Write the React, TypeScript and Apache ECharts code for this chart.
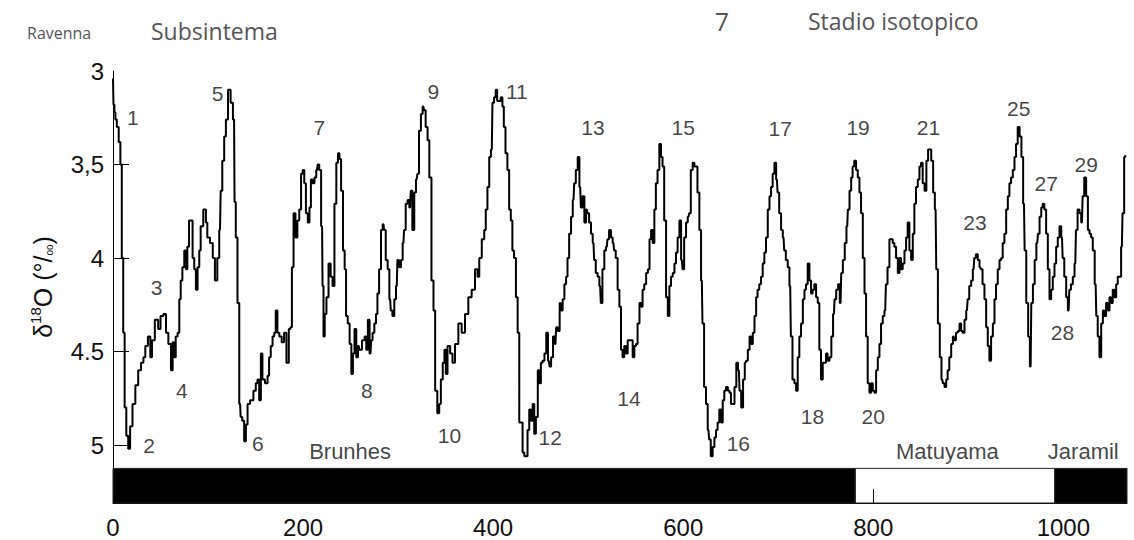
import React, { useEffect, useRef } from 'react';
import * as echarts from 'echarts';

// δ18O record, [age ka, δ18O ‰]
const record0to175: [number, number][] = [[0,3.04],[1,3.18],[2,3.22],[3,3.26],[5,3.3],[7,3.38],[8.5,3.5],[10,4.0],[11.5,4.4],[13,4.8],[15,4.95],[17,5.02],[19,4.9],[22,4.78],[25,4.68],[28,4.6],[31,4.56],[33,4.53],[35,4.47],[38.5,4.42],[40,4.53],[42,4.44],[46,4.33],[49,4.38],[51,4.31],[55,4.3],[56.5,4.4],[60,4.46],[62,4.6],[63.5,4.45],[65,4.53],[67,4.42],[69,4.4],[70.5,4.22],[72,4.12],[74,4.05],[76,3.96],[77.5,4.06],[79,3.94],[81,3.8],[83,3.8],[84.5,4.0],[86.5,4.06],[88,4.17],[90,4.05],[91.5,3.96],[93,3.83],[97,3.74],[98.5,3.81],[100,3.89],[104,3.92],[106,4.0],[108.5,4.12],[111,4.0],[112.6,3.85],[114,3.64],[116,3.48],[118,3.35],[119.6,3.26],[122.5,3.1],[125,3.17],[127.4,3.26],[128.4,3.7],[130,3.89],[132,4.24],[133.7,4.78],[135,4.85],[137,4.87],[139,4.98],[140.7,4.89],[142.5,4.78],[146,4.76],[149.5,4.71],[151,4.67],[153,4.65],[154.7,4.76],[156.5,4.51],[158,4.65],[161.8,4.67],[163.5,4.63],[165,4.53],[167,4.47],[168.8,4.42],[170.5,4.4],[172,4.28],[174,4.4]];
const record175to355: [number, number][] = [[176,4.42],[179,4.45],[181,4.4],[184,4.56],[186,4.38],[187.5,4.37],[189,4.05],[191,3.76],[193,3.89],[195,3.8],[197,3.74],[198.8,3.55],[200.5,3.53],[202,3.6],[204,3.76],[206,3.81],[207.5,3.73],[209,3.58],[211,3.6],[213,3.57],[214.7,3.53],[216,3.5],[218,3.53],[220,3.83],[221,4.15],[222,4.42],[223.6,4.3],[225.6,4.21],[228,4.03],[230,4.1],[232,4.15],[234,3.71],[236,3.49],[237.5,3.44],[239,3.47],[241,3.64],[243,3.96],[244.5,4.06],[246,4.31],[248,4.35],[250,4.46],[251.6,4.62],[253.3,4.51],[255,4.38],[257,4.53],[258.6,4.47],[260,4.49],[264,4.44],[265.6,4.42],[267.4,4.49],[269,4.33],[271,4.51],[272.3,4.44],[274,4.4],[276,4.35],[277.5,4.3],[279,4.19],[281,4.06],[283,3.85],[284.6,3.82],[286,3.85],[288,4.01],[290,4.06],[291.6,4.22],[293,4.28],[295,4.31],[297,4.22],[298.6,4.15],[300,4.01],[302,4.05],[304,4.01],[305.6,3.92],[307,3.85],[309,3.71],[311,3.69],[312.6,3.73],[314,3.64],[316,3.85],[318,3.65],[319.6,3.58],[321,3.55],[323,3.32],[325,3.23],[326.6,3.19],[328,3.21],[330,3.3],[332,3.37],[333.7,3.57],[336.5,4.12],[338,4.28],[340,4.71],[342.5,4.83],[344,4.78],[346,4.65],[348,4.56],[349.5,4.49],[351,4.62],[353,4.47]];
const record355to533: [number, number][] = [[356.5,4.51],[358,4.56],[361.8,4.46],[365,4.35],[368.8,4.4],[372,4.3],[375.8,4.21],[379,4.17],[382.8,4.06],[384.5,4.1],[386.3,4.0],[389.8,3.9],[391.5,3.85],[393,3.74],[395,3.62],[396.8,3.46],[398.6,3.42],[400,3.17],[402,3.14],[403.5,3.1],[405,3.16],[407,3.16],[409,3.14],[410.5,3.19],[412,3.3],[414,3.44],[416,3.53],[417.7,3.74],[419.5,3.8],[421,3.96],[423,4.0],[425,4.21],[426.6,4.4],[428.4,4.88],[430,4.88],[432,5.04],[433.7,5.06],[435.4,5.06],[437,4.92],[439,4.81],[440.7,4.87],[442.5,4.78],[444,4.94],[446,4.85],[448,4.6],[449.5,4.67],[451,4.56],[453,4.55],[455,4.51],[456.8,4.4],[458.6,4.55],[460,4.58],[462,4.53],[464,4.42],[465.6,4.46],[467,4.37],[469,4.39],[471,4.24],[472.3,4.28],[474,4.22],[476,4.14],[477.5,4.1],[479,4.0],[481,3.87],[483,3.78],[484.6,3.69],[486,3.6],[488,3.53],[490,3.46],[491.6,3.62],[493,3.73],[495,3.67],[497,3.81],[498.6,3.74],[500,3.76],[502,3.81],[504,3.87],[505.6,3.92],[507,4.01],[509,4.08],[511,4.1],[512.6,4.15],[514,4.24],[516,4.06],[518,3.96],[519.6,3.94],[521,3.9],[523,3.85],[525,3.89],[526.6,3.92],[528,3.96],[530,4.0],[532,4.17]];
const record533to715: [number, number][] = [[533.7,4.26],[535.4,4.49],[537,4.53],[539,4.47],[540.7,4.51],[542.5,4.44],[546,4.44],[547.7,4.53],[549.5,4.47],[551,4.46],[553,4.35],[555,4.24],[556.5,4.26],[558,4.17],[560,4.14],[562,4.08],[563.7,4.06],[565.4,3.9],[567,3.85],[568.8,3.92],[570.5,3.74],[572,3.6],[574,3.53],[575.8,3.39],[577.5,3.46],[579,3.51],[581,3.8],[583,4.21],[584.6,4.31],[586.3,4.15],[588,4.1],[590,4.08],[591.6,4.03],[593.3,3.97],[595,3.89],[597,3.8],[598.6,4.01],[600,4.06],[602,3.89],[604,3.81],[605.6,3.78],[607,3.76],[609,3.53],[611,3.49],[612.6,3.51],[614,3.51],[616,3.65],[618,3.85],[619.6,4.12],[621,4.35],[623,4.69],[625,4.78],[626.6,4.92],[628,4.97],[630,5.06],[632,5.01],[633.7,4.96],[635.4,4.92],[637,4.88],[639,4.81],[640.7,4.88],[642.5,4.76],[644,4.71],[646,4.69],[648,4.71],[649.5,4.72],[651,4.78],[653,4.78],[655,4.69],[656.8,4.56],[658.6,4.6],[660,4.71],[662,4.8],[664,4.65],[665.6,4.56],[667,4.55],[669,4.49],[670.7,4.42],[672.5,4.46],[674,4.4],[676,4.31],[677.5,4.21],[679,4.17],[681,4.14],[682.8,4.1],[684.5,4.03],[686.3,3.97],[688,3.89],[690,3.74],[691.6,3.67],[693.3,3.62],[695,3.55],[697,3.49],[698.6,3.58],[700,3.65],[702,3.76],[704,3.85],[705.6,3.89],[707,3.96],[709,4.01],[711,4.05],[712.6,4.15],[714,4.42]];
const record715to891: [number, number][] = [[716,4.65],[718,4.67],[719.6,4.71],[721.4,4.53],[723,4.42],[725,4.35],[726.8,4.22],[728.4,4.17],[730,4.14],[732,4.03],[733.7,4.12],[735.4,4.19],[737,4.17],[739,4.14],[740.7,4.21],[742.5,4.24],[744,4.49],[746,4.65],[747.7,4.56],[749.5,4.56],[751,4.51],[753,4.55],[755,4.53],[756.8,4.42],[758.6,4.3],[760,4.22],[762,4.17],[764,4.14],[765.6,4.24],[767,4.08],[769,4.01],[771,3.92],[772.6,3.83],[774,3.74],[776,3.64],[777.5,3.57],[779,3.51],[781,3.48],[782.8,3.53],[784.6,3.57],[786.3,3.65],[788,3.76],[790,4.0],[791.6,4.19],[793.3,4.42],[795,4.67],[797,4.72],[798.6,4.67],[800.4,4.71],[802,4.72],[804,4.6],[805.6,4.53],[807.4,4.46],[809,4.35],[811,4.31],[812.6,4.28],[814,4.14],[816,4.05],[818,3.9],[819.6,3.9],[821.4,3.92],[823,3.94],[825,4.0],[826.7,4.08],[828.4,4.0],[830,4.06],[832,4.03],[833.7,3.96],[835.4,3.89],[837,3.81],[839,3.96],[840.7,4.01],[842.5,3.87],[844,3.71],[846,3.62],[847.7,3.58],[849.5,3.51],[851,3.49],[853,3.6],[855,3.64],[856.8,3.48],[858.6,3.42],[860,3.42],[862,3.48],[864,3.65],[865.6,3.74],[867,4.06],[869,4.35],[871,4.53],[872.6,4.65],[874,4.67],[876,4.69],[877.5,4.65],[879,4.6],[881,4.53],[883,4.46],[884.6,4.42],[886,4.44],[888,4.4],[890,4.39]];
const record891to1066: [number, number][] = [[891.6,4.35],[893.3,4.39],[895,4.4],[897,4.33],[898.6,4.28],[900,4.22],[902,4.15],[904,4.12],[905.6,4.06],[907,4.0],[909,3.98],[911,4.01],[912.6,4.05],[914,4.06],[916,4.14],[918,4.22],[919.6,4.37],[921.4,4.47],[923,4.55],[925,4.42],[926.7,4.35],[928.4,4.22],[930,4.14],[932,4.06],[933.7,4.01],[935.4,4.0],[937,3.92],[939,3.87],[940.7,3.74],[942.5,3.67],[944,3.6],[946,3.57],[947.7,3.53],[949.5,3.46],[951,3.39],[953,3.3],[955,3.35],[956.8,3.46],[958.6,3.71],[960,3.96],[962,4.24],[964,4.42],[965.6,4.58],[967,4.24],[969,4.14],[970.7,4.01],[972.6,3.92],[974,3.87],[976,3.78],[977.5,3.73],[979,3.71],[981,3.74],[982.8,3.87],[984.6,4.06],[986.3,4.22],[988,4.17],[989.8,4.1],[991.6,4.03],[993.3,3.94],[995,3.89],[997,3.83],[998.6,3.89],[1000,4.0],[1002,4.1],[1004,4.21],[1005.6,4.28],[1007,4.17],[1009,4.14],[1011,4.1],[1012.6,4.03],[1014,3.85],[1016,3.74],[1018,3.76],[1019.6,3.81],[1021,3.67],[1023,3.57],[1025,3.67],[1026.7,3.85],[1028.4,3.87],[1030,3.89],[1032,3.96],[1034,4.14],[1035.4,4.31],[1037,4.42],[1039,4.53],[1040.7,4.35],[1042.5,4.28],[1044,4.31],[1046,4.24],[1047.7,4.28],[1049.5,4.21],[1051,4.24],[1053,4.17],[1054.7,4.21],[1056.5,4.14],[1058,4.1],[1060,4.1],[1061.6,3.94],[1063,3.76],[1065,3.46],[1066,3.45]];

// Marine isotope stage numbers: [age ka, δ18O, label]
const stageLabels: [number, number, string][] = [
  [21, 3.25, '1'], [38, 5.0, '2'], [46, 4.155, '3'], [72.5, 4.71, '4'], [110, 3.12, '5'],
  [152.5, 4.99, '6'], [217, 3.3, '7'], [267, 4.71, '8'], [337, 3.11, '9'], [354, 4.95, '10'],
  [425, 3.11, '11'], [460, 4.96, '12'], [505, 3.3, '13'], [543, 4.75, '14'], [600, 3.3, '15'],
  [658, 4.99, '16'], [702, 3.31, '17'], [736, 4.85, '18'], [784, 3.3, '19'], [800, 4.85, '20'],
  [858, 3.3, '21'], [907, 3.81, '23'], [953, 3.2, '25'], [982, 3.6, '27'], [999, 4.4, '28'],
  [1024, 3.5, '29'],
];

// Magnetic polarity chrons
const chronFrom = [0, 781, 991];
const chronTo = [781, 991, 1067];
const chronNormal = [true, false, true];
const chronLabels: [number, number, string][] = [
  [249.5, 5.037, 'Brunhes'], [878, 5.037, 'Matuyama'], [1021, 5.037, 'Jaramil'],
];

const xTicks = [0, 200, 400, 600, 800, 1000];
const yTicks = [3, 3.5, 4, 4.5, 5];
const yTickText = ['3', '3,5', '4', '4.5', '5'];

const X_MAX = 1067;
const Y_MIN = 3;
const Y_MAX = 5.31;
const BAR_TOP = 5.125;

const FONT = 'Liberation Sans';
const TITLE_FONT = 'Open Sans';

export default function App() {
  const ref = useRef<HTMLDivElement>(null);
  useEffect(() => {
    const chart = echarts.init(ref.current!, null, { renderer: 'svg' });
    const record = [
      ...record0to175, ...record175to355, ...record355to533,
      ...record533to715, ...record715to891, ...record891to1066,
    ];
    const option: any = {
      animation: false,
      backgroundColor: '#ffffff',
      grid: { left: 113, right: 7, top: 71, bottom: 37 },
      xAxis: {
        type: 'value', min: 0, max: X_MAX, interval: 200,
        axisLine: { show: true, lineStyle: { color: '#000', width: 1 } },
        axisTick: { show: true, inside: true, length: 14, customValues: xTicks, lineStyle: { color: '#000', width: 1 } },
        axisLabel: {
          show: true, customValues: xTicks, fontSize: 24, fontFamily: FONT, color: '#111', margin: 12,
          formatter: (v: number) => String(v),
        },
        splitLine: { show: false },
      },
      yAxis: {
        type: 'value', inverse: true, min: Y_MIN, max: Y_MAX, interval: 0.5,
        axisLine: { show: true, lineStyle: { color: '#000', width: 1 } },
        axisTick: { show: true, inside: true, length: 16, customValues: [3.5, 4, 4.5, 5], lineStyle: { color: '#000', width: 1 } },
        axisLabel: {
          show: true, customValues: yTicks, fontSize: 24, fontFamily: FONT, color: '#111', margin: 9,
          formatter: (v: number) => {
            const i = yTicks.findIndex((t) => Math.abs(t - v) < 1e-6);
            return i >= 0 ? yTickText[i] : '';
          },
        },
        splitLine: { show: false },
      },
      series: [
        {
          type: 'line',
          data: record,
          step: 'middle',
          symbol: 'none',
          lineStyle: { color: '#000', width: 2 },
          z: 3,
          markArea: {
            silent: true,
            label: { show: false },
            data: chronFrom.map((f, i) => [
              {
                xAxis: f, yAxis: BAR_TOP,
                itemStyle: {
                  color: chronNormal[i] ? '#000' : 'rgba(255,255,255,0)',
                  borderColor: '#222', borderWidth: 1,
                },
              },
              { xAxis: chronTo[i], yAxis: Y_MAX },
            ]),
          },
        },
        {
          type: 'scatter',
          data: stageLabels.map(([x, y, n]) => ({ value: [x, y], name: n })),
          symbolSize: 0,
          silent: true,
          label: {
            show: true, position: 'inside', formatter: '{b}',
            fontSize: 21, fontFamily: FONT, color: '#111',
          },
          z: 5,
        },
        {
          type: 'scatter',
          data: chronLabels.map(([x, y, n]) => ({ value: [x, y], name: n })),
          symbolSize: 0,
          silent: true,
          label: {
            show: true, position: 'inside', formatter: '{b}',
            fontSize: 22, fontFamily: FONT, color: '#111',
          },
          z: 5,
        },
      ],
      graphic: [
        {
          type: 'text', x: 27, y: 33,
          style: { text: 'Ravenna', fontSize: 16, fontFamily: TITLE_FONT, fill: '#555', align: 'left', verticalAlign: 'middle' },
        },
        {
          type: 'text', x: 151, y: 31,
          style: { text: 'Subsintema', fontSize: 23, fontFamily: TITLE_FONT, fill: '#555', align: 'left', verticalAlign: 'middle' },
        },
        {
          type: 'text', x: 722, y: 21,
          style: { text: '7', fontSize: 25, fontFamily: TITLE_FONT, fill: '#555', align: 'center', verticalAlign: 'middle' },
        },
        {
          type: 'text', x: 808, y: 21,
          style: { text: 'Stadio isotopico', fontSize: 23, fontFamily: TITLE_FONT, fill: '#555', align: 'left', verticalAlign: 'middle' },
        },
        {
          type: 'text', x: 43, y: 287, rotation: Math.PI / 2,
          style: {
            text: '{n|δ}{s|18}{n|O (°/}{p|oo}{n|)}',
            align: 'center', verticalAlign: 'middle', fill: '#111',
            rich: {
              n: { fontSize: 25, fontFamily: FONT, lineHeight: 30, fill: '#111' },
              s: { fontSize: 15, fontFamily: FONT, verticalAlign: 'top', fill: '#111' },
              p: { fontSize: 10, fontFamily: FONT, verticalAlign: 'bottom', fill: '#111', padding: [0, 0, 4, 0] },
            },
          },
        },
      ],
    };
    chart.setOption(option);
    return () => chart.dispose();
  }, []);
  return (
    <div
      ref={ref}
      style={{ position: 'fixed', left: 0, top: 0, width: 1134, height: 540, background: '#fff' }}
    />
  );
}
